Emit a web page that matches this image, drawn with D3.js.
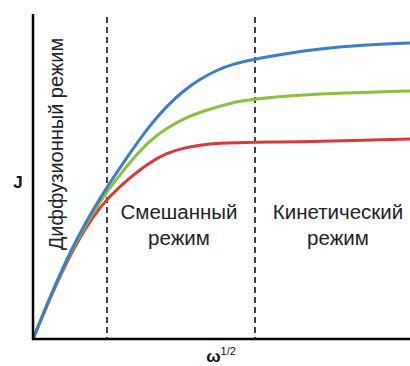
<!DOCTYPE html>
<html>
<head>
<meta charset="utf-8">
<script src="https://cdn.jsdelivr.net/npm/d3@7.9.0/dist/d3.min.js"></script>
<style>
  body { margin: 0; background: #fff; }
  svg { display: block; font-family: Arial, "Liberation Sans", sans-serif; }
</style>
</head>
<body>
<svg id="chart" width="410" height="366"></svg>
<script>
// omega^1/2 and J in arbitrary units
const blueX  = [0, 30, 60, 94, 117, 134, 150, 167, 184, 200, 222, 244, 284, 330, 377];
const blueY  = [0, 74, 131, 182, 214, 233, 248, 260, 269, 275, 280, 284, 290, 294, 296];
const greenX = [0, 30, 60, 94, 117, 134, 150, 167, 200, 222, 267, 307, 377];
const greenY = [0, 73, 129, 174, 199, 211, 220, 227, 237, 240, 244, 246, 248];
const redX   = [0, 30, 60, 77, 94, 117, 134, 150, 167, 184, 222, 267, 377];
const redY   = [0, 72, 124, 143, 159, 177, 186, 191, 194, 196, 197, 197, 200];
const boundaries = [74, 222];
const regimeLabels = [
  { x: 146, lines: ["Смешанный", "режим"] },
  { x: 305, lines: ["Кинетический", "режим"] }
];
const diffLabel = "Диффузионный режим";

const svg = d3.select('#chart');
const x = d3.scaleLinear().domain([0, 377]).range([33, 410]);
const y = d3.scaleLinear().domain([0, 325]).range([339, 14]);

// dashed regime boundaries
boundaries.forEach(b => {
  svg.append('line')
    .attr('x1', x(b)).attr('x2', x(b))
    .attr('y1', 17).attr('y2', y(0))
    .attr('stroke', '#111').attr('stroke-width', 1.6)
    .attr('stroke-dasharray', '6,4');
});

const line = d3.line()
  .x(d => x(d[0])).y(d => y(d[1]))
  .curve(d3.curveBasis);

const series = [
  { xs: redX, ys: redY, color: '#d63a3a' },
  { xs: greenX, ys: greenY, color: '#8cbf3f' },
  { xs: blueX, ys: blueY, color: '#3c7dc4' }
];
series.forEach(s => {
  svg.append('path')
    .datum(d3.zip(s.xs, s.ys))
    .attr('d', line)
    .attr('fill', 'none')
    .attr('stroke', s.color)
    .attr('stroke-width', 3);
});

// axes without ticks
svg.append('line')
  .attr('x1', x(0)).attr('x2', x(0))
  .attr('y1', y(325)).attr('y2', y(0))
  .attr('stroke', '#000').attr('stroke-width', 2.5);
svg.append('line')
  .attr('x1', x(0) - 1).attr('x2', x(377))
  .attr('y1', y(0)).attr('y2', y(0))
  .attr('stroke', '#000').attr('stroke-width', 2.5);

// labels
svg.append('text')
  .attr('x', 18).attr('y', 188)
  .attr('text-anchor', 'middle')
  .attr('font-size', 17).attr('font-weight', 'bold')
  .attr('fill', '#111')
  .text('J');

const xl = svg.append('text')
  .attr('x', 221).attr('y', 362)
  .attr('text-anchor', 'middle')
  .attr('fill', '#111');
xl.append('tspan').attr('font-size', 17).attr('font-weight', 'bold').text('ω');
xl.append('tspan').attr('font-size', 11).attr('dy', -7).text('1/2');

svg.append('text')
  .attr('transform', 'translate(63,144) rotate(-90)')
  .attr('text-anchor', 'middle')
  .attr('font-size', 20)
  .attr('fill', '#222')
  .text(diffLabel);

regimeLabels.forEach(r => {
  r.lines.forEach((t, i) => {
    svg.append('text')
      .attr('x', x(r.x)).attr('y', 219 + i * 26)
      .attr('text-anchor', 'middle')
      .attr('font-size', 20.5)
      .attr('fill', '#222')
      .text(t);
  });
});
</script>
</body>
</html>
